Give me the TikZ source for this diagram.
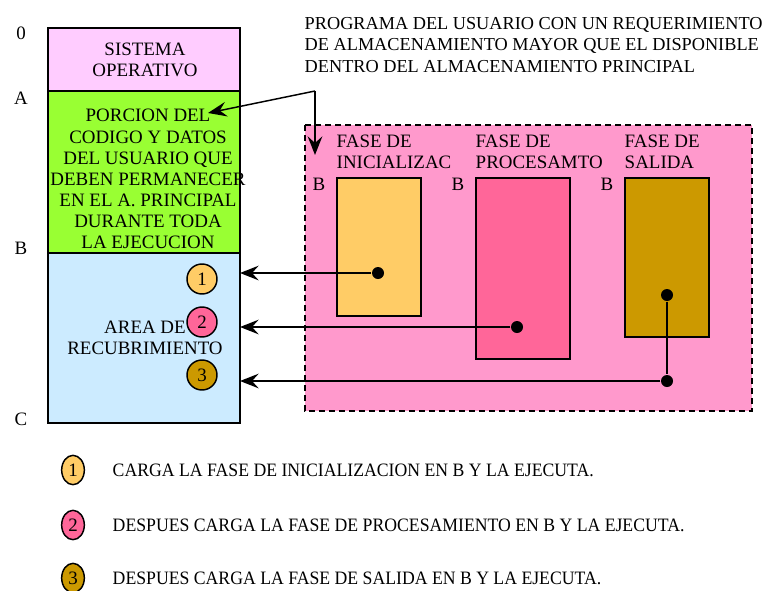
\documentclass[tikz,border=0pt]{standalone}
\usepackage{fontspec}
\setmainfont{Liberation Serif}
\usetikzlibrary{arrows.meta,shapes.geometric}
\definecolor{sopink}{HTML}{FFCCFF}
\definecolor{usrgreen}{HTML}{99FF33}
\definecolor{ovlblue}{HTML}{CCEBFF}
\definecolor{prgpink}{HTML}{FF99CC}
\definecolor{fase1}{HTML}{FFCC66}
\definecolor{fase2}{HTML}{FF6699}
\definecolor{fase3}{HTML}{CC9900}
\begin{document}
\begin{tikzpicture}[x=.75pt,y=-.75pt,line width=1.1pt,
    font=\fontsize{14.2}{15.8}\selectfont,
    txt/.style={align=center,inner sep=0pt},
    dot/.style={circle,fill=black,inner sep=0pt,minimum size=9pt},
    num/.style={circle,draw,inner sep=0pt,minimum size=22.5pt},
    lnum/.style={ellipse,draw,inner sep=0pt,minimum width=17pt,minimum height=22pt},
    arr/.style={-{Stealth[length=14pt,width=11pt,inset=5pt]}}]
  \useasboundingbox (0,0) rectangle (767,590);
  \draw[fill=sopink](48,28)rectangle(240,91);
  \draw[fill=usrgreen](48,91)rectangle(240,253);
  \draw[fill=ovlblue](48,253)rectangle(240,423);
  \coordinate (edge) at (240,0);
  \node[txt] (so) at (145,60) {SISTEMA\\OPERATIVO};
  \node[txt] (usr) at (148,179) {PORCION DEL\\CODIGO Y DATOS\\DEL USUARIO QUE\\DEBEN PERMANECER\\EN EL A. PRINCIPAL\\DURANTE TODA\\LA EJECUCION};
  \node[txt] (ovl) at (145,338) {AREA DE\\RECUBRIMIENTO};
  \foreach \l/\y in {0/33,A/98,B/248,C/419}{
    \node[txt] (m\l) at (21,\y) {\l};
  }
  \node[txt,align=left,anchor=west,font=\fontsize{13.7}{15.8}\selectfont] (title) at (304,45) {PROGRAMA DEL USUARIO CON UN REQUERIMIENTO\\DE ALMACENAMIENTO MAYOR QUE EL DISPONIBLE\\DENTRO DEL ALMACENAMIENTO PRINCIPAL};
  \draw[fill=prgpink,dash pattern=on 4.5pt off 3pt](305,125)rectangle(752,411);
  \draw[fill=fase1](337,178)rectangle(421,316);
  \draw[fill=fase2](476,178)rectangle(570,359);
  \draw[fill=fase3](625,178)rectangle(709,337);
  \foreach \i/\x/\t in {1/336/INICIALIZAC,2/475/PROCESAMTO,3/624/SALIDA}{
    \node[txt,align=left,anchor=west] (f\i) at (\x,152) {FASE DE\\\t};
    \node[txt] (b\i) at (\x-17,184) {B};
  }
  \node[num,fill=fase1] (n1) at (202,279) {1};
  \node[num,fill=fase2] (n2) at (202,322) {2};
  \node[num,fill=fase3] (n3) at (202,375) {3};
  \node[dot] (d1) at (378,273) {};
  \node[dot] (d2) at (517,327) {};
  \node[dot] (d3) at (667,295) {};
  \node[dot] (d4) at (667,381) {};
  \draw[arr](d1)--(d1-|edge);
  \draw[arr](d2)--(d2-|edge);
  \draw(d3)--(d4);
  \draw[arr](d4)--(d4-|edge);
  \coordinate (k) at (315,91);
  \coordinate (t1) at (208,113);
  \coordinate (t2) at (315,155);
  \draw[arr](k)--(t1);
  \draw[arr](k)--(t2);
  \node[lnum,fill=fase1] (l1) at (73,470) {1};
  \node[lnum,fill=fase2] (l2) at (73,525) {2};
  \node[lnum,fill=fase3] (l3) at (73,578) {3};
  \node[txt,anchor=west] (e1) at (112,470) {\scalebox{.935}[1]{CARGA LA FASE DE INICIALIZACION EN B Y LA EJECUTA.}};
  \node[txt,anchor=west] (e2) at (112,525) {\scalebox{.935}[1]{DESPUES CARGA LA FASE DE PROCESAMIENTO EN B Y LA EJECUTA.}};
  \node[txt,anchor=west] (e3) at (112,578) {\scalebox{.935}[1]{DESPUES CARGA LA FASE DE SALIDA EN B Y LA EJECUTA.}};
\end{tikzpicture}
\end{document}
